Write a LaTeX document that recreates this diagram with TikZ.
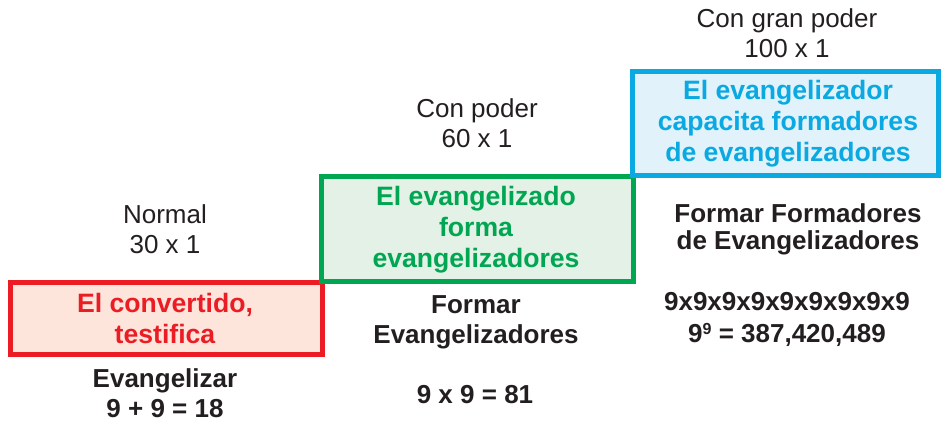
\documentclass[tikz,border=0pt]{standalone}
\usepackage{fontspec}
\setmainfont{Liberation Sans}
\definecolor{cred}{HTML}{EC1C24}
\definecolor{fred}{HTML}{FDE5DB}
\definecolor{cgreen}{HTML}{00A651}
\definecolor{fgreen}{HTML}{E3F1E6}
\definecolor{cblue}{HTML}{0AA9E2}
\definecolor{fblue}{HTML}{E1F2FA}
\definecolor{ink}{HTML}{231F20}
\begin{document}
\begin{tikzpicture}[x=1pt,y=-1pt,
  lbl/.style={font=\fontsize{26}{30}\selectfont, text=ink, align=center, inner sep=0pt, anchor=base},
  bl/.style={lbl, font=\bfseries\fontsize{26}{30}\selectfont},
  boxtxt/.style={lbl, font=\bfseries\fontsize{26.6}{31}\selectfont},
  stepbox/.style={line width=5pt}]
\useasboundingbox (0,0) rectangle (942,422);
% boxes
\draw[stepbox, draw=cred, fill=fred] (10,282) rectangle (322.5,354);
\draw[stepbox, draw=cgreen, fill=fgreen] (321,177) rectangle (633.5,281.5);
\draw[stepbox, draw=cblue, fill=fblue] (632,72) rectangle (938.5,176);
% box texts (anchor = baseline of last line)
\node[boxtxt, text=cred] (t1) at (165,343) {El convertido,\\testifica};
\node[boxtxt, text=cgreen] (t2) at (476,267) {El evangelizado\\forma\\evangelizadores};
\node[boxtxt, text=cblue] (t3) at (788,162) {El evangelizador\\capacita formadores\\de evangelizadores};
% level labels
\node[lbl] (l1) at (165,253) {Normal\\30 x 1};
\node[lbl] (l2) at (477,148) {Con poder\\60 x 1};
\node[lbl] (l3) at (787,58) {Con gran poder\\100 x 1};
% below texts
\node[bl] (b1) at (165,417) {Evangelizar\\9 + 9 = 18};
\node[bl] (b2) at (476,343) {Formar\\Evangelizadores};
\node[bl] (b2n) at (475,403) {9 x 9 = 81};
\node[bl, font=\bfseries\fontsize{26}{27}\selectfont] (b3) at (798,249) {Formar Formadores\\de Evangelizadores};
\node[bl, font=\bfseries\fontsize{26}{32}\selectfont] (b3n) at (787,342) {9x9x9x9x9x9x9x9x9\\9\raisebox{7.5pt}{\fontsize{16}{16}\selectfont 9} = 387,420,489};
\end{tikzpicture}
\end{document}
